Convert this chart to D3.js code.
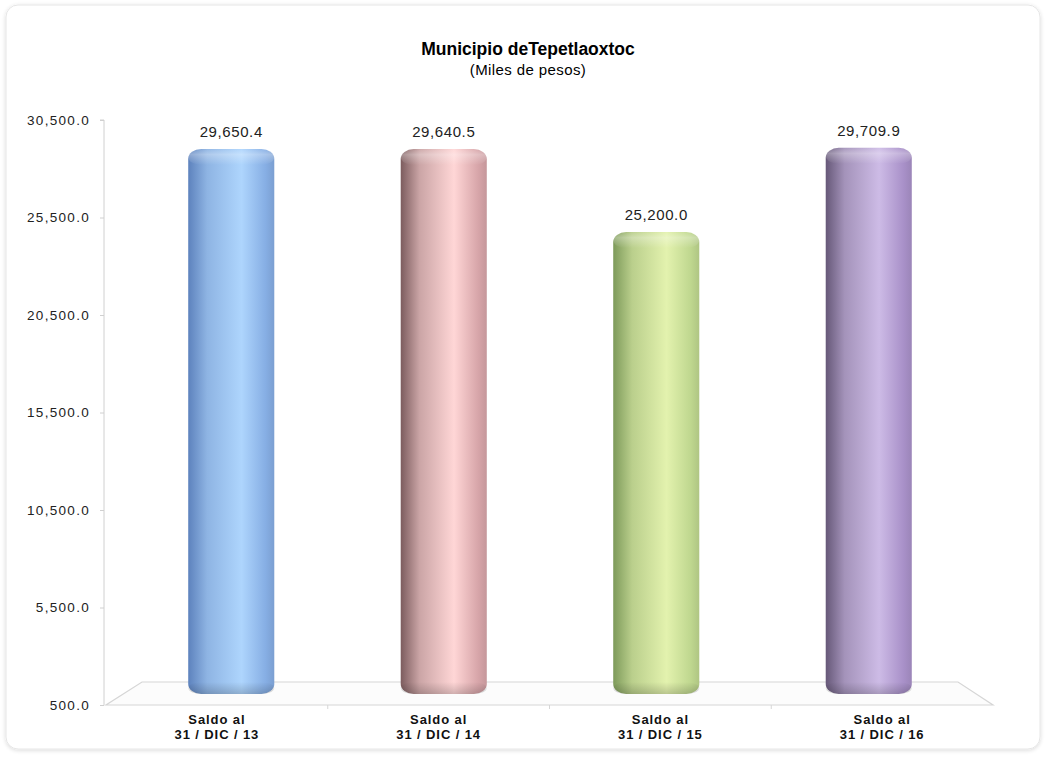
<!DOCTYPE html>
<html lang="es">
<head>
    <meta charset="UTF-8">
    <title>Municipio de Tepetlaoxtoc</title>
    <script src="https://d3js.org/d3.v7.min.js"></script>
    <style>
        body {
            margin: 0;
            background: #fff;
            font-family: Arial, "Liberation Sans", sans-serif;
        }
        .axis path, .axis line {
            fill: none;
            stroke: #d0d0d0;
        }
        .axis text {
            font-size: 13.5px;
            letter-spacing: 1.3px;
            fill: #222;
        }
    </style>
</head>
<body>
<svg id="chart"></svg>

<script>
    // data
    const categories = ["13", "14", "15", "16"];
    const values = [29650.4, 29640.5, 25200.0, 29709.9];
    const yTicks = [500, 5500, 10500, 15500, 20500, 25500, 30500];
    // left shade, highlight, right edge for each cylinder
    const barColors = [
        ["#5d82bd", "#aed5fd", "#86aee4"],
        ["#7c5c5e", "#ffd6d6", "#d7a5a9"],
        ["#7d9a5a", "#e3f2ae", "#bfd78f"],
        ["#665878", "#cdbbe6", "#a991c9"]
    ];

    const width = 1050, height = 757;
    const svg = d3.select("#chart")
        .attr("width", width)
        .attr("height", height);

    const defs = svg.append("defs");

    // chart frame
    const shadow = defs.append("filter").attr("id", "shadow")
        .attr("x", "-5%").attr("y", "-5%").attr("width", "110%").attr("height", "110%");
    shadow.append("feGaussianBlur").attr("in", "SourceAlpha").attr("stdDeviation", 2);
    shadow.append("feOffset").attr("dx", 0).attr("dy", 1).attr("result", "b");
    shadow.append("feComponentTransfer").append("feFuncA").attr("type", "linear").attr("slope", 0.15);
    const merge = shadow.append("feMerge");
    merge.append("feMergeNode");
    merge.append("feMergeNode").attr("in", "SourceGraphic");

    svg.append("rect")
        .attr("x", 6).attr("y", 5)
        .attr("width", 1034).attr("height", 744)
        .attr("rx", 12)
        .attr("fill", "#fff")
        .attr("stroke", "#e6e6e6")
        .attr("filter", "url(#shadow)");

    // title
    svg.append("text")
        .attr("x", 528).attr("y", 55)
        .attr("text-anchor", "middle")
        .style("font-size", "17.5px")
        .style("font-weight", "bold")
        .text("Municipio deTepetlaoxtoc");
    svg.append("text")
        .attr("x", 528).attr("y", 75)
        .attr("text-anchor", "middle")
        .style("font-size", "15px")
        .style("letter-spacing", "0.4px")
        .text("(Miles de pesos)");

    // front plane (axis) and back plane (bars sit a little deeper)
    const yAxisScale = d3.scaleLinear().domain([500, 30500]).range([705, 120]);
    const yBar = d3.scaleLinear().domain([500, 30500]).range([694, 133]);

    const xFront = d3.scaleBand().domain(categories).range([106, 993]);
    const xMid = d3.scaleBand().domain(categories).range([125, 975])
        .paddingInner(0.595).paddingOuter(0.2975);

    // floor
    const floor = [[106, 705], [993, 705], [958, 682], [142, 682]];
    svg.append("polygon")
        .attr("points", floor.map(p => p.join(",")).join(" "))
        .attr("fill", "#fcfcfc")
        .attr("stroke", "#d6d6d6")
        .attr("stroke-width", 1.2);

    // y axis
    svg.append("g")
        .attr("class", "axis")
        .attr("transform", "translate(104,0)")
        .call(d3.axisLeft(yAxisScale)
            .tickValues(yTicks)
            .tickFormat(d3.format(",.1f"))
            .tickSize(4)
            .tickPadding(10))
        .call(g => g.select(".domain").attr("d", `M-4,${yAxisScale(30500)}H0V${yAxisScale(500)}`));

    // small category separators on the front edge
    svg.selectAll(".sep")
        .data(categories.slice(1))
        .enter().append("line")
        .attr("x1", d => xFront(d)).attr("x2", d => xFront(d))
        .attr("y1", 705).attr("y2", 709)
        .attr("stroke", "#d6d6d6");

    // cylinder gradients
    barColors.forEach((c, i) => {
        const g = defs.append("linearGradient")
            .attr("id", "bar" + i)
            .attr("x1", "0%").attr("x2", "100%").attr("y1", "0%").attr("y2", "0%");
        g.append("stop").attr("offset", "0%").attr("stop-color", c[0]);
        g.append("stop").attr("offset", "22%").attr("stop-color", d3.interpolateRgb(c[0], c[1])(0.6));
        g.append("stop").attr("offset", "62%").attr("stop-color", c[1]);
        g.append("stop").attr("offset", "90%").attr("stop-color", c[2]);
        g.append("stop").attr("offset", "100%").attr("stop-color", d3.color(c[2]).darker(0.25));
    });
    const cap = defs.append("linearGradient")
        .attr("id", "cap")
        .attr("x1", "0%").attr("x2", "0%").attr("y1", "0%").attr("y2", "100%");
    cap.append("stop").attr("offset", "0%").attr("stop-color", "#fff").attr("stop-opacity", 0.05);
    cap.append("stop").attr("offset", "35%").attr("stop-color", "#fff").attr("stop-opacity", 0.3);
    cap.append("stop").attr("offset", "100%").attr("stop-color", "#fff").attr("stop-opacity", 0);
    const base = defs.append("linearGradient")
        .attr("id", "base")
        .attr("x1", "0%").attr("x2", "0%").attr("y1", "0%").attr("y2", "100%");
    base.append("stop").attr("offset", "0%").attr("stop-color", "#000").attr("stop-opacity", 0);
    base.append("stop").attr("offset", "100%").attr("stop-color", "#000").attr("stop-opacity", 0.18);

    const bars = svg.selectAll(".bar")
        .data(values)
        .enter().append("g")
        .attr("class", "bar");

    bars.append("rect")
        .attr("x", (d, i) => xMid(categories[i]))
        .attr("y", d => yBar(d))
        .attr("width", xMid.bandwidth())
        .attr("height", d => yBar(500) - yBar(d))
        .attr("rx", 13).attr("ry", 10)
        .attr("fill", (d, i) => `url(#bar${i})`);

    bars.append("rect")
        .attr("x", (d, i) => xMid(categories[i]))
        .attr("y", d => yBar(d))
        .attr("width", xMid.bandwidth())
        .attr("height", 16)
        .attr("rx", 13).attr("ry", 10)
        .attr("fill", "url(#cap)");

    bars.append("rect")
        .attr("x", (d, i) => xMid(categories[i]))
        .attr("y", yBar(500) - 12)
        .attr("width", xMid.bandwidth())
        .attr("height", 12)
        .attr("rx", 13).attr("ry", 10)
        .attr("fill", "url(#base)");

    // value labels
    bars.append("text")
        .attr("x", (d, i) => xMid(categories[i]) + xMid.bandwidth() / 2)
        .attr("y", d => yBar(d) - 12)
        .attr("text-anchor", "middle")
        .style("font-size", "15px")
        .style("letter-spacing", "0.6px")
        .style("fill", "#222")
        .text(d => d3.format(",.1f")(d));

    // category labels
    const xl = svg.selectAll(".xlabel")
        .data(categories)
        .enter().append("text")
        .attr("class", "xlabel")
        .attr("text-anchor", "middle")
        .style("font-size", "13px")
        .style("letter-spacing", "0.9px")
        .style("font-weight", "bold")
        .style("fill", "#111");
    xl.append("tspan")
        .attr("x", d => xFront(d) + xFront.bandwidth() / 2)
        .attr("y", 724)
        .text("Saldo al");
    xl.append("tspan")
        .attr("x", d => xFront(d) + xFront.bandwidth() / 2)
        .attr("y", 739)
        .text(d => "31 / DIC / " + d);
</script>
</body>
</html>
